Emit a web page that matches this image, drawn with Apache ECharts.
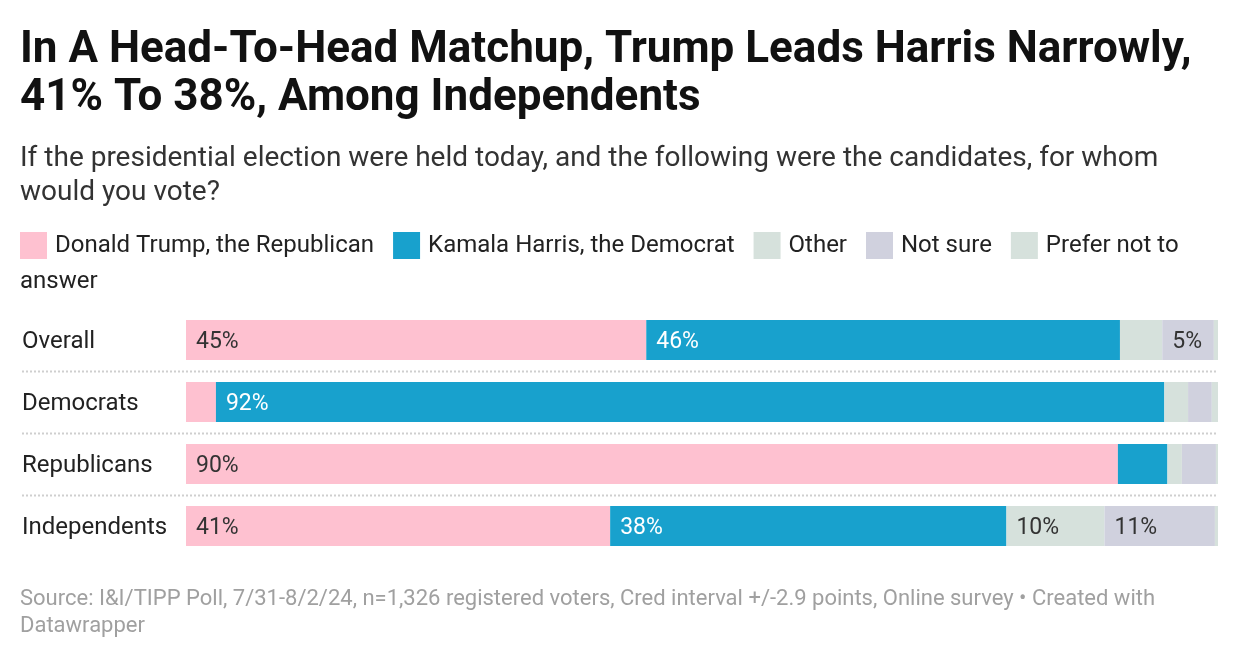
<!DOCTYPE html>
<html>
<head>
<meta charset="utf-8">
<script src="https://cdn.jsdelivr.net/npm/echarts@6/dist/echarts.min.js"></script>
<style>
html,body{margin:0;padding:0;background:#fff;}
#main{width:1240px;height:660px;}
</style>
</head>
<body>
<div id="main"></div>
<script>
const categories = ['Overall', 'Democrats', 'Republicans', 'Independents'];
const seriesNames = ['Donald Trump, the Republican', 'Kamala Harris, the Democrat', 'Other', 'Not sure', 'Prefer not to answer'];
const trump = [44.6, 2.9, 90.3, 41.1];
const harris = [45.9, 91.9, 4.8, 38.4];
const other = [4.1, 2.3, 1.4, 9.5];
const notSure = [5.0, 2.3, 3.3, 10.7];
const preferNot = [0.4, 0.6, 0.2, 0.4];
const xTicks = [0, 100];

const colors = ['#fec1d0', '#18a1cd', '#d6e1dc', '#d0d1de', '#d6e1dc'];
const labelColors = ['#333333', '#ffffff', '#333333', '#333333', '#333333'];
const dataSets = [trump, harris, other, notSure, preferNot];
const FONT = 'Roboto, "Noto Sans", sans-serif';

const chart = echarts.init(document.getElementById('main'), null, {renderer: 'canvas'});

const series = seriesNames.map((name, i) => ({
  name: name,
  type: 'bar',
  stack: 'total',
  barWidth: 40,
  data: dataSets[i],
  itemStyle: {color: colors[i]},
  emphasis: {disabled: true},
  label: {
    show: true,
    position: 'insideLeft',
    distance: 10,
    offset: [0, 2],
    color: labelColors[i],
    fontFamily: FONT,
    fontSize: 23,
    formatter: p => p.value >= 5 ? Math.round(p.value) + '%' : ''
  }
}));

const option = {
  animation: false,
  backgroundColor: '#ffffff',
  title: [
    {
      text: 'In A Head-To-Head Matchup, Trump Leads Harris Narrowly,\n41% To 38%, Among Independents',
      left: 20, top: 27, padding: 0,
      textStyle: {fontFamily: FONT, fontWeight: 'bold', fontSize: 44, lineHeight: 48, color: '#111111'}
    },
    {
      text: 'If the presidential election were held today, and the following were the candidates, for whom\nwould you vote?',
      left: 20, top: 142, padding: 0,
      textStyle: {fontFamily: FONT, fontWeight: 'normal', fontSize: 28, lineHeight: 34, color: '#333333'}
    },
    {
      text: 'Source: I&I/TIPP Poll, 7/31-8/2/24, n=1,326 registered voters, Cred interval +/-2.9 points, Online survey \u2022 Created with\nDatawrapper',
      left: 20, top: 586, padding: 0,
      textStyle: {fontFamily: FONT, fontWeight: 'normal', fontSize: 22, lineHeight: 27, color: '#a0a0a0'}
    }
  ],
  legend: {
    left: 20, top: 232, padding: 0,
    itemWidth: 27, itemHeight: 27,
    itemGap: 19,
    icon: 'rect',
    selectedMode: false,
    data: seriesNames,
    formatter: name => name === 'Prefer not to answer' ? 'Prefer not to' : name,
    textStyle: {fontFamily: FONT, fontSize: 24, color: '#222222', padding: [0, 0, 0, 3]}
  },
  grid: {left: 186, right: 22, top: 309, bottom: 103, containLabel: false},
  xAxis: {
    type: 'value', min: xTicks[0], max: xTicks[1],
    show: false
  },
  yAxis: {
    type: 'category',
    data: categories,
    inverse: true,
    axisLine: {show: false},
    axisTick: {show: false},
    splitLine: {show: false},
    axisLabel: {
      align: 'left', margin: 164,
      formatter: v => '{a|' + v + '}',
      rich: {a: {fontFamily: FONT, fontSize: 24, color: '#222222', padding: [4, 0, 0, 0]}},
      fontFamily: FONT, fontSize: 24, color: '#222222'
    }
  },
  series: series,
  graphic: [
    {type: 'text', left: 20, top: 270, style: {text: 'answer', font: '24px ' + FONT, fill: '#222222'}}
  ]
};

chart.setOption(option);

// dotted separators between rows, positioned with the axis scale
const sep = [];
for (let i = 0; i < categories.length - 1; i++) {
  const y1 = chart.convertToPixel({yAxisIndex: 0}, categories[i]);
  const y2 = chart.convertToPixel({yAxisIndex: 0}, categories[i + 1]);
  const y = Math.round((y1 + y2) / 2) + 0.5;
  const xEnd = chart.convertToPixel({xAxisIndex: 0}, 100);
  sep.push({
    type: 'line',
    shape: {x1: 22, y1: y, x2: xEnd, y2: y},
    style: {stroke: '#cfcfcf', lineWidth: 2, lineDash: [2, 2]}
  });
}
chart.setOption({graphic: option.graphic.concat(sep)});
</script>
</body>
</html>
